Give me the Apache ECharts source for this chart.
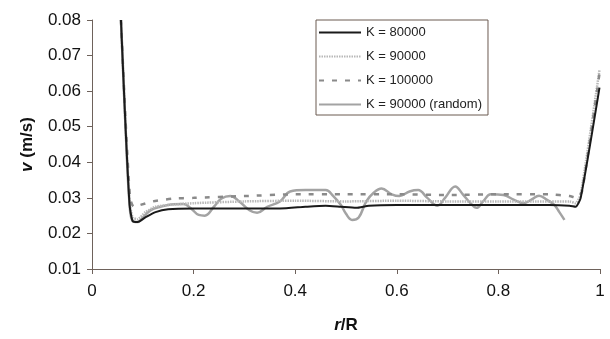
<!DOCTYPE html>
<html>
<head>
<meta charset="utf-8">
<script src="https://cdn.jsdelivr.net/npm/echarts@6/dist/echarts.min.js"></script>
<style>
html,body{margin:0;padding:0;background:#fff;}
#c{width:610px;height:339px;}
</style>
</head>
<body>
<div id="c"></div>
<script>
// ---- data (r/R, v in m/s) ----
var seriesNames = ['K = 80000', 'K = 90000', 'K = 100000', 'K = 90000 (random)'];
var xTicks = [0, 0.2, 0.4, 0.6, 0.8, 1];
var yTicks = [0.01, 0.02, 0.03, 0.04, 0.05, 0.06, 0.07, 0.08];

var x80 = [0.057,0.066,0.074,0.080,0.090,0.105,0.125,0.150,0.200,0.300,0.370,0.420,0.460,0.490,0.520,0.545,0.600,0.700,0.800,0.900,0.940,0.952,0.962,0.999];
var v80 = [0.080,0.050,0.028,0.0235,0.0232,0.0245,0.026,0.0268,0.027,0.027,0.027,0.0275,0.0278,0.0275,0.0272,0.0278,0.028,0.028,0.028,0.028,0.0278,0.0275,0.030,0.061];

var x90 = [0.057,0.066,0.074,0.080,0.090,0.105,0.125,0.150,0.200,0.300,0.400,0.500,0.600,0.700,0.800,0.900,0.940,0.952,0.962,0.999];
var v90 = [0.080,0.050,0.029,0.0245,0.024,0.026,0.0275,0.028,0.0285,0.029,0.0292,0.029,0.0292,0.029,0.029,0.029,0.029,0.0285,0.031,0.066];

var x100 = [0.057,0.066,0.075,0.082,0.095,0.120,0.160,0.200,0.300,0.400,0.500,0.600,0.700,0.800,0.900,0.940,0.955,0.965,0.999];
var v100 = [0.080,0.052,0.030,0.0275,0.028,0.029,0.0298,0.030,0.0305,0.031,0.031,0.031,0.0308,0.031,0.031,0.0305,0.030,0.032,0.065];

var xRnd = [0.057,0.066,0.074,0.080,0.090,0.100,0.115,0.135,0.160,0.180,0.195,0.210,0.222,0.240,0.255,0.272,0.290,0.310,0.325,0.345,0.370,0.390,0.420,0.460,0.475,0.490,0.500,0.512,0.525,0.540,0.555,0.570,0.590,0.605,0.625,0.642,0.660,0.680,0.695,0.715,0.730,0.745,0.757,0.770,0.785,0.810,0.830,0.850,0.865,0.880,0.895,0.910,0.920,0.930];
var vRnd = [0.080,0.050,0.028,0.0235,0.0232,0.0245,0.0265,0.0275,0.0282,0.0283,0.027,0.0252,0.0250,0.0275,0.0298,0.0305,0.029,0.0265,0.0258,0.0275,0.029,0.0318,0.0322,0.0322,0.0305,0.028,0.0255,0.0238,0.0245,0.029,0.0315,0.0326,0.031,0.0305,0.0318,0.0322,0.030,0.0278,0.030,0.0332,0.031,0.0285,0.0272,0.029,0.031,0.0308,0.0295,0.0285,0.0295,0.0306,0.0295,0.028,0.026,0.0238];

function zip(xs, ys){ return xs.map(function(x,i){ return [x, ys[i]]; }); }

var axisColor = '#6e625b';
var font = 'Liberation Sans, Arial, sans-serif';

var chart = echarts.init(document.getElementById('c'), null, {renderer:'canvas'});
chart.setOption({
  animation: false,
  backgroundColor: '#fff',
  grid: {left: 92, right: 10, top: 20, bottom: 67, containLabel: false},
  legend: {
    show: true,
    orient: 'vertical',
    left: 316, top: 20,
    data: seriesNames,
    itemWidth: 42, itemHeight: 12, itemGap: 11,
    backgroundColor: '#fff',
    borderColor: '#6b5a50', borderWidth: 1, borderRadius: 0,
    padding: [6, 6, 4, 2],
    textStyle: {fontFamily: font, fontSize: 13, color: '#222'},
    itemStyle: {opacity: 0},
    selectedMode: false
  },
  xAxis: {
    type: 'value', min: 0, max: 1, interval: 0.2,
    name: '{i|r}{b|/R}', nameLocation: 'middle', nameGap: 48,
    nameTextStyle: {rich: {
      i: {fontFamily: font, fontSize: 17, fontWeight: 'bold', fontStyle: 'italic', color: '#111'},
      b: {fontFamily: font, fontSize: 17, fontWeight: 'bold', color: '#111'}
    }},
    axisLine: {show: true, onZero: false, lineStyle: {color: axisColor, width: 1}},
    axisTick: {show: true, inside: false, length: 5, lineStyle: {color: axisColor}},
    axisLabel: {fontFamily: font, fontSize: 17, color: '#111', margin: 14,
      formatter: function(v){ return String(+v.toFixed(1)); }},
    splitLine: {show: false}
  },
  yAxis: {
    type: 'value', min: 0.01, max: 0.08, interval: 0.01,
    name: '{i|v}{b| (m/s)}', nameLocation: 'middle', nameGap: 56, nameRotate: 90,
    nameTextStyle: {rich: {
      i: {fontFamily: font, fontSize: 17, fontWeight: 'bold', fontStyle: 'italic', color: '#111'},
      b: {fontFamily: font, fontSize: 17, fontWeight: 'bold', color: '#111'}
    }},
    axisLine: {show: true, lineStyle: {color: axisColor, width: 1}},
    axisTick: {show: true, inside: false, length: 5, lineStyle: {color: axisColor}},
    axisLabel: {fontFamily: font, fontSize: 17, color: '#111', margin: 11,
      formatter: function(v){ return v.toFixed(2); }},
    splitLine: {show: false}
  },
  series: [
    {name: seriesNames[0], type: 'line', data: zip(x80, v80), symbol: 'none', smooth: 0.2,
     itemStyle: {color: '#1a1a1a'},
     lineStyle: {color: '#1a1a1a', width: 2, type: 'solid'}, z: 4},
    {name: seriesNames[1], type: 'line', data: zip(x90, v90), symbol: 'none', smooth: 0.2,
     itemStyle: {color: '#b8b8b8'},
     lineStyle: {color: '#b8b8b8', width: 2.5, type: [1.5, 1]}, z: 2},
    {name: seriesNames[2], type: 'line', data: zip(x100, v100), symbol: 'none', smooth: 0.2,
     itemStyle: {color: '#8a8a8a'},
     lineStyle: {color: '#8a8a8a', width: 2.5, type: [5, 8]}, z: 3},
    {name: seriesNames[3], type: 'line', data: zip(xRnd, vRnd), symbol: 'none', smooth: 0.4,
     itemStyle: {color: '#a3a3a3'},
     lineStyle: {color: '#a3a3a3', width: 2.5, type: 'solid'}, z: 1}
  ]
});
</script>
</body>
</html>
